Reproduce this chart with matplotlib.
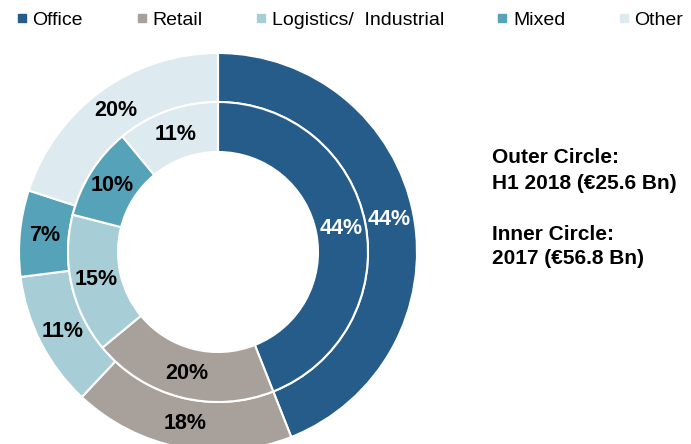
import matplotlib
matplotlib.use("Agg")
import matplotlib.pyplot as plt
from matplotlib.lines import Line2D

plt.rcParams['font.family'] = ['Liberation Sans', 'DejaVu Sans']

categories = ['Office', 'Retail', 'Logistics/  Industrial', 'Mixed', 'Other']
outer_share = [44, 18, 11, 7, 20]   # H1 2018
inner_share = [44, 20, 15, 10, 11]  # 2017
colors = ['#255c89', '#a8a19b', '#a7cdd6', '#56a3b9', '#ddebf0']
label_colors = ['white', 'black', 'black', 'black', 'black']

W, H = 691, 444
fig = plt.figure(figsize=(W / 100, H / 100), dpi=100)
ax = fig.add_axes([0, 0, 1, 1])

cx, cy = 218, H - 252
r_out, r_mid, r_in = 199, 150, 100

wedge_kw = dict(edgecolor='white', linewidth=1.5)
pct = lambda p: '%.0f%%' % p

_, _, outer_txt = ax.pie(outer_share, colors=colors, startangle=90, counterclock=False,
                         radius=r_out, center=(cx, cy), autopct=pct,
                         pctdistance=(r_out + r_mid) / 2 / r_out,
                         wedgeprops=dict(width=r_out - r_mid, **wedge_kw))
_, _, inner_txt = ax.pie(inner_share, colors=colors, startangle=90, counterclock=False,
                         radius=r_mid, center=(cx, cy), autopct=pct,
                         pctdistance=(r_mid + r_in) / 2 / r_mid,
                         wedgeprops=dict(width=r_mid - r_in, **wedge_kw))

for txts in (outer_txt, inner_txt):
    for t, c in zip(txts, label_colors):
        t.set_color(c)
        t.set_fontsize(15.5)
        t.set_fontweight('bold')

ax.set_xlim(0, W)
ax.set_ylim(0, H)
ax.set_aspect('equal')
ax.axis('off')

# side notes
notes = [('Outer Circle:', 163), ('H1 2018 (€25.6 Bn)', 189),
         ('Inner Circle:', 240), ('2017 (€56.8 Bn)', 264)]
for s, yb in notes:
    ax.text(492, H - yb, s, fontsize=15, fontweight='bold', va='baseline', ha='left')

handles = [Line2D([], [], linestyle='none', marker='s', markersize=5.8,
                  markerfacecolor=c, markeredgecolor=c) for c in colors]
fig.legend(handles, categories, loc='center left', bbox_to_anchor=(17 / W, 1 - 20.5 / H),
           ncol=5, frameon=False, fontsize=14, borderpad=0, borderaxespad=0,
           handlelength=0.5, handletextpad=0.3, columnspacing=2.76)

fig.savefig('out.png', dpi=100)
